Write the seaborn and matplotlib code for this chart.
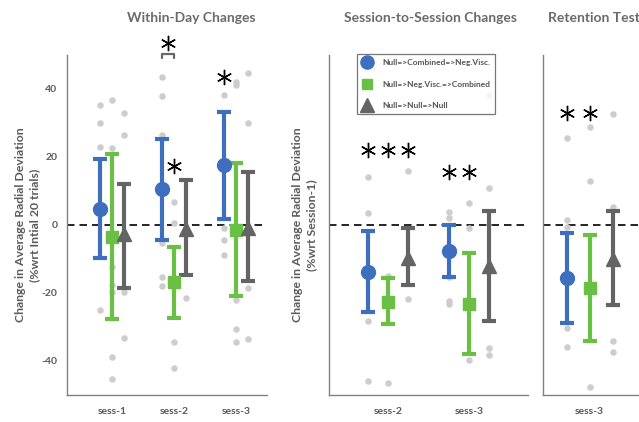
import numpy as np
import pandas as pd
import matplotlib
matplotlib.use("Agg")
import matplotlib.pyplot as plt
import seaborn as sns
from matplotlib.lines import Line2D

sns.set_style("white")
plt.rcParams["font.family"] = ["Lato", "DejaVu Sans"]
plt.rcParams["font.weight"] = "bold"

# ---------------- data ----------------
groups = ["Null=>Combined=>Neg.Visc.", "Null=>Neg.Visc.=>Combined", "Null=>Null=>Null"]
colors = ["#3e6fbe", "#6abf45", "#646464"]
markers = ["o", "s", "^"]
marker_sizes = [10, 8.5, 10]

# Within-Day Changes
wd_sessions = ["sess-1", "sess-2", "sess-3"]
wd_blue_mean = [4.7, 10.5, 17.5]
wd_blue_lo = [-9.8, -4.4, 1.8]
wd_blue_hi = [19.4, 25.3, 33.2]
wd_green_mean = [-3.5, -16.8, -1.5]
wd_green_lo = [-27.6, -27.4, -20.8]
wd_green_hi = [20.9, -6.4, 18.2]
wd_gray_mean = [-2.6, -1.2, -0.9]
wd_gray_lo = [-18.5, -14.7, -16.5]
wd_gray_hi = [12.1, 13.2, 15.6]
wd_blue_pts = [[35.3, 30.0, 23.0, -25.0],
               [43.6, 38.0, 26.5, -5.3, -15.2, -17.8],
               [38.2, -1.0, -4.4, -8.8]]
wd_green_pts = [[36.8, 22.6, -12.3, -17.6, -19.7, -38.8, -45.3],
                [6.8, 0.6, -34.4, -42.0],
                [42.0, 41.2, -22.0, -30.6, -34.3]]
wd_gray_pts = [[33.0, 26.5, -19.7, -33.2],
               [-21.5],
               [44.7, 30.0, -18.5, -33.5]]

# Session-to-Session Changes
ss_sessions = ["sess-2", "sess-3"]
ss_blue_mean = [-13.7, -7.6]
ss_blue_lo = [-25.7, -15.2]
ss_blue_hi = [-1.7, 0.0]
ss_green_mean = [-22.6, -23.2]
ss_green_lo = [-29.1, -38.0]
ss_green_hi = [-15.7, -8.2]
ss_gray_mean = [-9.6, -12.2]
ss_gray_lo = [-17.6, -28.2]
ss_gray_hi = [-1.0, 4.1]
ss_blue_pts = [[14.2, 3.6, -28.2, -45.9],
               [3.8, 2.2, -15.4, -22.4, -23.3]]
ss_green_pts = [[-15.0, -46.5],
                [6.6, -0.8, -39.7]]
ss_gray_pts = [[16.0, -21.8],
               [38.2, 11.0, -36.2, -38.2]]

# Retention Test
rt_sessions = ["sess-3"]
rt_blue_mean = [-15.7]
rt_blue_lo = [-28.7]
rt_blue_hi = [-2.4]
rt_green_mean = [-18.6]
rt_green_lo = [-34.2]
rt_green_hi = [-2.9]
rt_gray_mean = [-10.0]
rt_gray_lo = [-23.5]
rt_gray_hi = [4.1]
rt_blue_pts = [[25.7, 1.5, -0.6, -30.3, -35.9]]
rt_green_pts = [[28.9, 12.9, -47.6]]
rt_gray_pts = [[32.6, 5.3, -34.0, -37.4]]

# significance stars: (session index, group index, y)
wd_stars = [(1, 1, 17.4), (2, 0, 43.5)]
wd_bracket_star_y = 53.5
ss_stars = [(0, 0, 22.0), (0, 1, 22.0), (0, 2, 22.0), (1, 0, 15.6), (1, 1, 15.6)]
rt_stars = [(0, 0, 32.9), (0, 1, 32.9)]

titles = ["Within-Day Changes", "Session-to-Session Changes", "Retention Test"]
ylabel1 = "Change in Average Radial Deviation\n(%wrt Intial 20 trials)"
ylabel2 = "Change in Average Radial Deviation\n(%wrt Session-1)"

# ---------------- figure ----------------
W, H = 639, 422
fig = plt.figure(figsize=(W / 100, H / 100), dpi=100)


def px_axes(x0, x1, y0=55, y1=395):
    return fig.add_axes([x0 / W, 1 - y1 / H, (x1 - x0) / W, (y1 - y0) / H])


ax1 = px_axes(67, 267)
ax2 = px_axes(329, 528)
ax3 = px_axes(543, 653)

spine_c = "#808080"
text_c = "#5a5a5a"
STAR_MS = 11
STAR_MEW = 1.0


def draw_panel(ax, sessions, means, los, his, pts, offset, xlim, stars):
    xs = np.arange(len(sessions)) + (4 - len(sessions)) * 1.0  # sess numbers
    rows = []
    for gi in range(3):
        for si, vals in enumerate(pts[gi]):
            for v in vals:
                rows.append({"x": xs[si] + (gi - 1) * offset, "v": v})
    df = pd.DataFrame(rows)
    sns.scatterplot(data=df, x="x", y="v", ax=ax, color="#cdcdcd", s=22,
                    linewidth=0, zorder=2, legend=False)
    ax.axhline(0, color="black", lw=1.2, ls=(0, (4.5, 3)), zorder=1)
    for gi in range(3):
        m = np.array(means[gi])
        lo = np.array(los[gi])
        hi = np.array(his[gi])
        ax.errorbar(xs + (gi - 1) * offset, m, yerr=[m - lo, hi - m],
                    fmt=markers[gi], color=colors[gi], ms=marker_sizes[gi],
                    mec=colors[gi], elinewidth=3, capsize=4.8, capthick=3,
                    zorder=3)
    for si, gi, y in stars:
        ax.plot([xs[si] + (gi - 1) * offset], [y], ls="", marker=(6, 2, 0),
                ms=STAR_MS, mew=STAR_MEW, color="black", clip_on=False,
                zorder=5)
    ax.set_xlim(*xlim)
    ax.set_ylim(-50, 50)
    ax.set_xticks(xs)
    ax.set_xticklabels(sessions, fontweight="bold")
    ax.set_yticks(np.arange(-50, 51, 10))
    ax.set_xlabel("")
    ax.set_ylabel("")
    for s in ["top", "right"]:
        ax.spines[s].set_visible(False)
    for s in ["left", "bottom"]:
        ax.spines[s].set_color(spine_c)
        ax.spines[s].set_linewidth(1.0)
    ax.tick_params(direction="in", length=3.5, width=1, color=spine_c,
                   labelcolor=text_c, labelsize=7.5, pad=7)
    ax.tick_params(axis="x", pad=9)
    return xs


draw_panel(ax1, wd_sessions,
           [wd_blue_mean, wd_green_mean, wd_gray_mean],
           [wd_blue_lo, wd_green_lo, wd_gray_lo],
           [wd_blue_hi, wd_green_hi, wd_gray_hi],
           [wd_blue_pts, wd_green_pts, wd_gray_pts],
           0.2, (0.274, 3.5), wd_stars)
ylab = []
for v in np.arange(-50, 51, 10):
    ylab.append(f"{v}" if v % 20 == 0 and abs(v) < 50 else "")
ax1.set_yticklabels(ylab, fontweight="bold")

# bracket with star in within-day sess-2
bx0, bx1 = 2 - 0.2, 2.0
ax1.plot([bx0, bx0, bx1, bx1], [49.1, 50.4, 50.4, 49.1], color="#666666",
         lw=1.6, clip_on=False, zorder=5)
ax1.plot([(bx0 + bx1) / 2], [wd_bracket_star_y], ls="", marker=(6, 2, 0),
         ms=STAR_MS, mew=STAR_MEW, color="black", clip_on=False, zorder=5)

draw_panel(ax2, ss_sessions,
           [ss_blue_mean, ss_green_mean, ss_gray_mean],
           [ss_blue_lo, ss_green_lo, ss_gray_lo],
           [ss_blue_hi, ss_green_hi, ss_gray_hi],
           [ss_blue_pts, ss_green_pts, ss_gray_pts],
           0.25, (1.272, 3.73), ss_stars)
ax2.set_yticklabels([])

draw_panel(ax3, rt_sessions,
           [rt_blue_mean, rt_green_mean, rt_gray_mean],
           [rt_blue_lo, rt_green_lo, rt_gray_lo],
           [rt_blue_hi, rt_green_hi, rt_gray_hi],
           [rt_blue_pts, rt_green_pts, rt_gray_pts],
           0.25, (2.49, 3.69), rt_stars)
ax3.set_yticklabels([])

# y labels
ax1.set_ylabel(ylabel1, fontsize=8.8, color=text_c, fontweight="bold",
               linespacing=1.35)
ax1.yaxis.set_label_coords(-0.135, 0.5)
ax2.set_ylabel(ylabel2, fontsize=8.8, color=text_c, fontweight="bold",
               linespacing=1.35)
ax2.yaxis.set_label_coords(-0.06, 0.5)

# titles
title_c = "#6a6a6a"
fig.text(191 / W, 1 - 18 / H, titles[0], ha="center", va="center",
         fontsize=10, color=title_c, fontweight="bold")
fig.text(430 / W, 1 - 18 / H, titles[1], ha="center", va="center",
         fontsize=10, color=title_c, fontweight="bold")
fig.text(548 / W, 1 - 18 / H, titles[2], ha="left", va="center",
         fontsize=10, color=title_c, fontweight="bold")

# legend
handles = [Line2D([], [], ls="", marker=markers[i], color=colors[i],
                  ms=[9.5, 7, 9.5][i]) for i in range(3)]
leg = ax2.legend(handles, groups, loc="upper left",
                 bbox_to_anchor=(0.141, 1.003), fontsize=6, frameon=True,
                 fancybox=False, edgecolor="#555555", borderpad=0.6,
                 labelspacing=1.75, handlelength=1.2, handletextpad=1.2,
                 borderaxespad=0)
leg.get_frame().set_linewidth(0.9)
for t in leg.get_texts():
    t.set_color("#555555")
    t.set_fontweight("bold")

fig.savefig("out.png", dpi=100)
